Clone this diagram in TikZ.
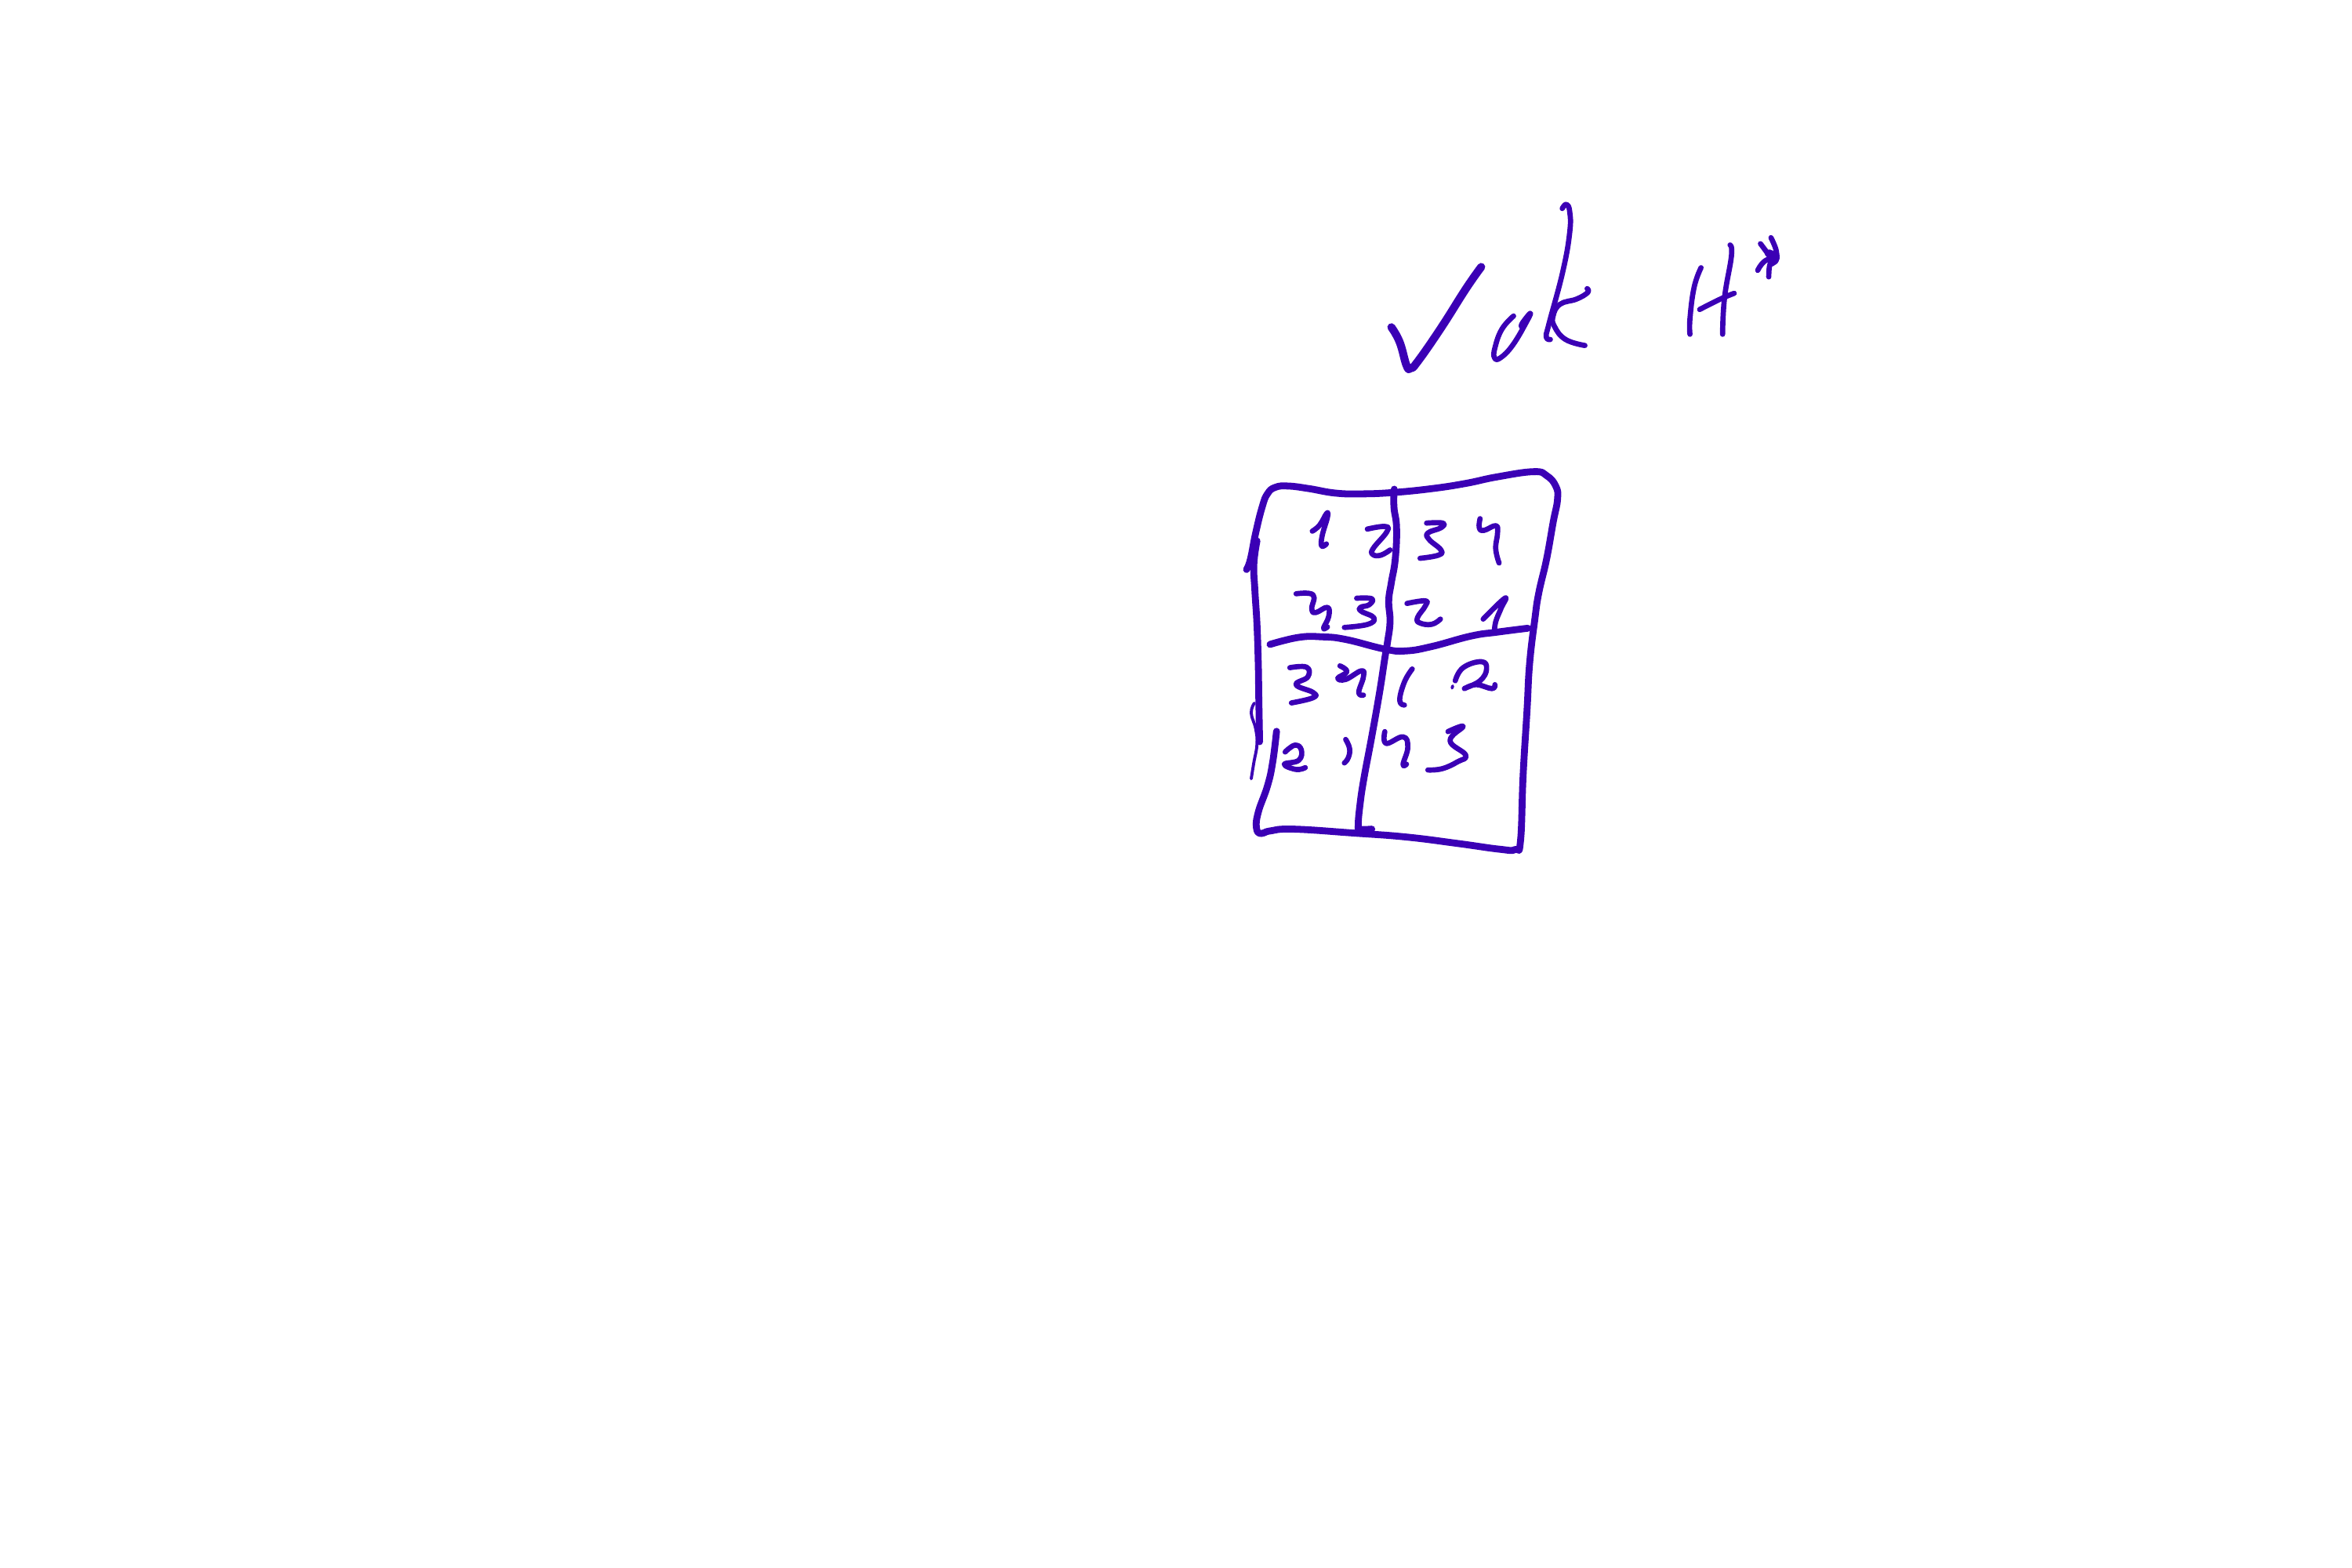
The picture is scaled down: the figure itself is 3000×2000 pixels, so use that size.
\documentclass[tikz,border=0pt]{standalone}
\definecolor{ink}{HTML}{3B00B5}
\tikzset{
  inkline/.style={draw=ink,line cap=round,line join=round},
  frame/.style={inkline,line width=2.5pt},
  heavy/.style={inkline,line width=2.9pt},
  digit/.style={inkline,line width=1.9pt},
  thin/.style={inkline,line width=1.1pt},
  zoomA/.style={shift={(1560,580)},x=.003333cm,y=-.003333cm},
  zoomB/.style={shift={(1560,840)},x=.003333cm,y=-.003333cm},
  zoomC/.style={shift={(1750,240)},x=.00352cm,y=-.003333cm}
}
\newcommand{\strokeline}[2]{\draw[#1] plot[smooth,tension=.75] coordinates {#2};}
\begin{document}
\begin{tikzpicture}[x=.01cm,y=-.01cm]
\useasboundingbox (0,0) rectangle (3000,2000);
\begin{scope}[zoomA]
\strokeline{frame}{(90,440)(105,400)(125,300)(150,200)(170,150)(200,125)(250,120)(330,130)(430,147)(530,150)(650,145)(800,130)(930,110)(1050,85)(1190,65)(1240,80)(1275,120)(1282,170)(1265,260)(1240,400)(1210,530)(1195,630)(1175,800)(1165,980)(1150,1230)(1140,1480)(1120,1513)(1060,1512)(900,1490)(700,1465)(500,1450)(270,1435)(180,1442)(145,1452)(128,1430)(135,1370)(170,1270)(190,1180)(205,1060)}
\strokeline{frame}{(130,330)(118,420)(122,520)(130,650)(135,800)(137,930)(140,1100)}
\strokeline{thin}{(120,952)(108,990)(125,1050)(130,1110)(118,1180)(108,1242)}
\strokeline{frame}{(656,132)(655,200)(665,280)(660,400)(645,490)(635,560)(640,640)(630,720)(620,780)(600,910)(570,1080)(540,1240)(525,1340)(518,1420)(525,1435)(570,1435)}
\strokeline{frame}{(180,727)(290,700)(380,698)(470,708)(620,745)(700,752)(800,735)(950,695)(1050,680)(1168,665)}
\strokeline{digit}{(342,293)(370,270)(397,225)(400,240)(380,310)(378,350)(396,342)}
\strokeline{digit}{(553,285)(620,275)(628,295)(575,360)(575,383)(605,385)(640,365)}
\strokeline{digit}{(780,262)(842,262)(835,280)(785,300)(790,325)(835,365)(825,385)(755,397)}
\strokeline{digit}{(985,245)(982,280)(1000,290)(1045,272)(1052,300)(1045,360)(1058,415)}
\strokeline{digit}{(280,533)(345,537)(340,590)(355,605)(400,585)(405,620)(385,665)(400,660)}
\strokeline{digit}{(512,550)(570,552)(560,575)(527,585)(530,600)(578,625)(555,650)(465,662)}
\strokeline{digit}{(705,570)(775,560)(775,580)(745,625)(755,645)(800,650)(833,630)}
\strokeline{digit}{(997,630)(1080,550)(1065,590)(1045,640)(1040,680)}
\end{scope}
\begin{scope}[zoomB]
\strokeline{digit}{(256,35)(320,33)(325,70)(280,100)(345,130)(345,150)(262,170)}
\strokeline{digit}{(448,28)(475,50)(440,75)(470,80)(530,47)(538,70)(520,130)(538,140)}
\strokeline{digit}{(725,40)(695,90)(677,160)(695,178)}
\strokeline{thin}{(880,105)(878,113)}
\strokeline{digit}{(890,85)(920,35)(990,12)(1010,40)(985,85)(925,115)(970,100)(1030,115)(1042,100)}
\strokeline{digit}{(238,358)(275,332)(300,350)(290,390)(235,405)(280,425)(315,418)}
\strokeline{digit}{(470,310)(485,345)(480,380)(465,400)}
\strokeline{digit}{(620,280)(625,325)(690,300)(708,340)(690,405)(703,405)}
\strokeline{digit}{(862,280)(920,260)(870,315)(930,370)(900,395)(840,422)(785,427)}
\end{scope}
\begin{scope}[zoomC]
\strokeline{heavy}{(70,533)(100,590)(125,680)(140,690)(165,665)(250,535)(340,385)(395,302)}
\strokeline{digit}{(512,490)(470,540)(445,610)(443,650)(465,650)(510,600)(560,510)(572,480)(545,515)(540,530)}
\strokeline{digit}{(688,78)(703,62)(715,90)(715,170)(690,320)(640,520)(630,570)(645,580)}
\strokeline{digit}{(778,385)(780,400)(740,425)(680,445)(655,490)(660,530)(700,580)(770,603)}
\strokeline{digit}{(1190,305)(1165,380)(1150,500)(1150,560)}
\strokeline{digit}{(1295,218)(1300,260)(1275,420)(1268,560)}
\strokeline{digit}{(1185,465)(1260,425)(1310,403)}
\strokeline{digit}{(1405,213)(1440,265)(1447,290)}
\strokeline{digit}{(1443,190)(1462,240)(1460,280)(1440,290)(1435,340)}
\strokeline{digit}{(1395,315)(1420,280)(1465,260)}
\strokeline{heavy}{(1435,250)(1460,265)(1445,285)}
\end{scope}
\end{tikzpicture}
\end{document}
